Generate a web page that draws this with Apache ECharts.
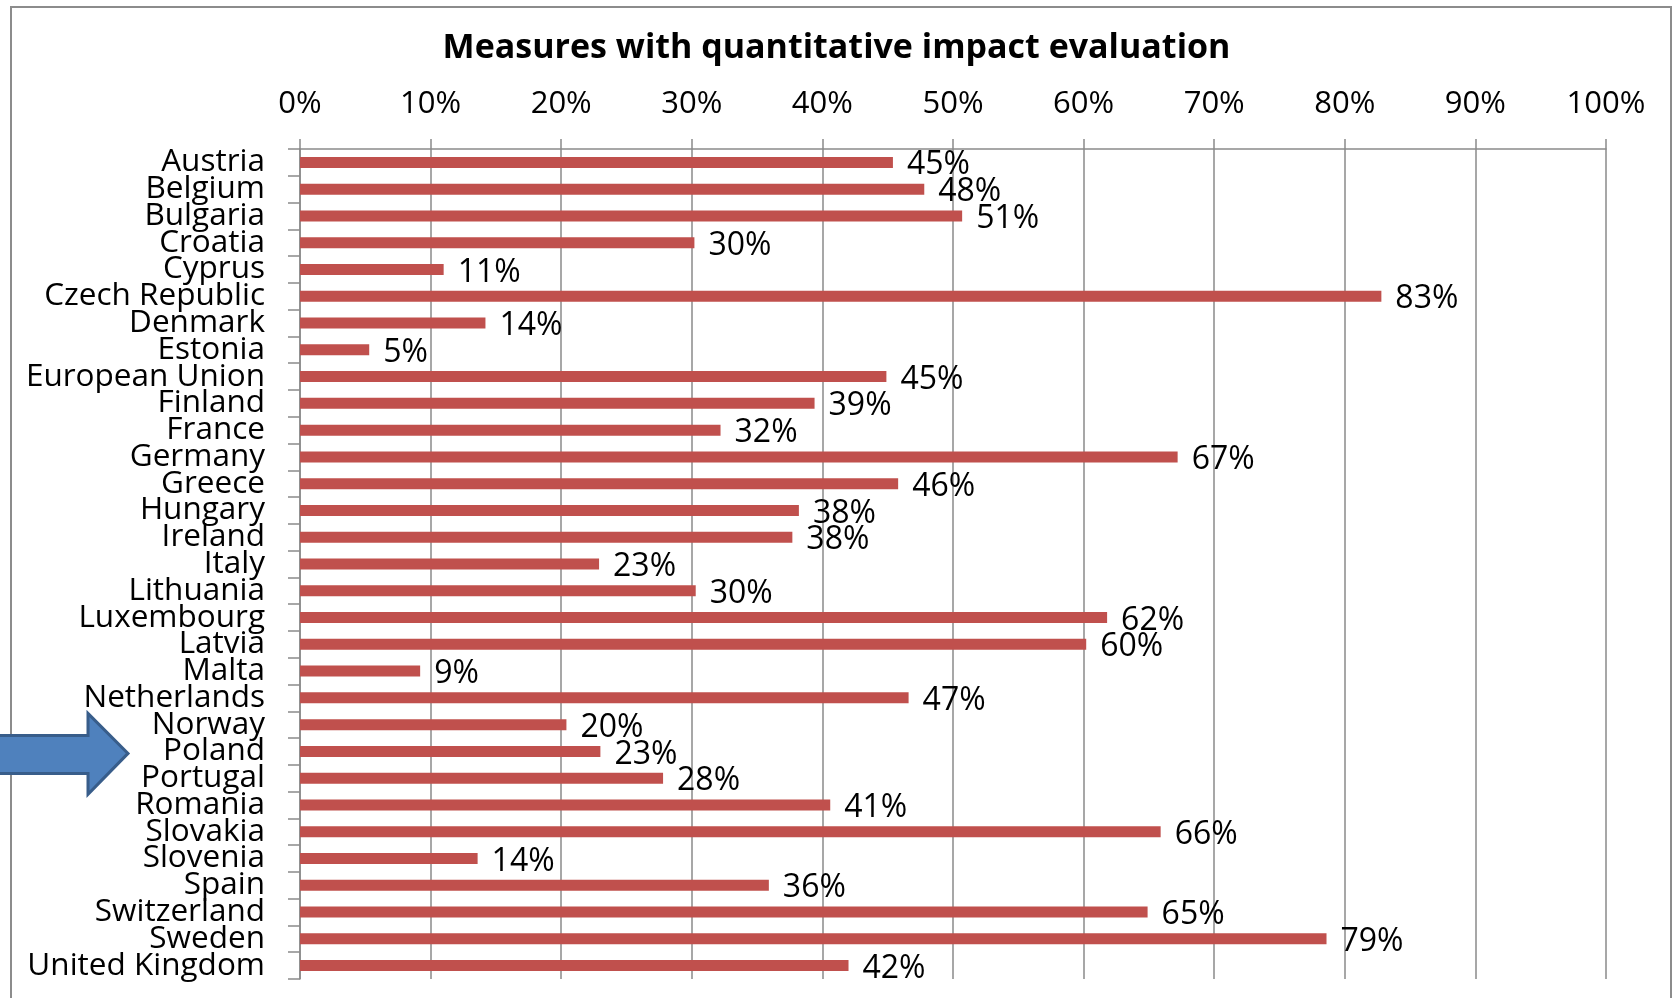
<!DOCTYPE html>
<html>
<head>
<meta charset="utf-8">
<script src="https://cdn.jsdelivr.net/npm/echarts@6/dist/echarts.min.js"></script>
<style>
html,body{margin:0;padding:0;background:#fff;}
#chart{width:1673px;height:998px;}
</style>
</head>
<body>
<div id="chart"></div>
<script>
const titleText = 'Measures with quantitative impact evaluation';
const countries = ['Austria','Belgium','Bulgaria','Croatia','Cyprus','Czech Republic','Denmark','Estonia','European Union','Finland','France','Germany','Greece','Hungary','Ireland','Italy','Lithuania','Luxembourg','Latvia','Malta','Netherlands','Norway','Poland','Portugal','Romania','Slovakia','Slovenia','Spain','Switzerland','Sweden','United Kingdom'];
const shares = [45.4,47.8,50.7,30.2,11.0,82.8,14.2,5.3,44.9,39.4,32.2,67.2,45.8,38.2,37.7,22.9,30.3,61.8,60.2,9.2,46.6,20.4,23.0,27.8,40.6,65.9,13.6,35.9,64.9,78.6,42.0];
const xTicks = {min:0, max:100, interval:10};
const highlighted = 'Poland';

const FONT = '"Open Sans", sans-serif';
const GRAY = '#8a8a8a';
const chart = echarts.init(document.getElementById('chart'), null, {renderer:'canvas'});
const option = {
  backgroundColor:'#fff',
  animation:false,
  title:{
    text:titleText, left:'center', top:26,
    textStyle:{fontFamily:FONT, fontWeight:'bold', fontSize:34, color:'#000'}
  },
  grid:{left:300, right:67, top:149, bottom:19, containLabel:false},
  xAxis:{
    type:'value', position:'top', min:xTicks.min, max:xTicks.max, interval:xTicks.interval,
    axisLine:{show:true, lineStyle:{color:GRAY, width:1.5}},
    axisTick:{show:true, length:10, lineStyle:{color:GRAY, width:1.5}},
    splitLine:{show:true, lineStyle:{color:GRAY, width:1.5}},
    axisLabel:{formatter:'{value}%', fontFamily:FONT, fontSize:31, color:'#000', margin:29}
  },
  yAxis:{
    type:'category', inverse:true, data:countries,
    axisLine:{show:true, lineStyle:{color:GRAY, width:1.5}},
    axisTick:{show:true, length:12, lineStyle:{color:GRAY, width:1.5}},
    axisLabel:{fontFamily:FONT, fontSize:31.5, color:'#000', margin:35, interval:0}
  },
  series:[{
    type:'bar', data:shares, barWidth:11,
    itemStyle:{color:'#c0504d'},
    label:{show:true, position:'right', distance:14, fontFamily:FONT, fontSize:32, color:'#000',
      offset:[0,3],
      formatter:p=>Math.round(p.value)+'%'}
  }]
};
chart.setOption(option);

function drawDecor(){
  const py = chart.convertToPixel({yAxisIndex:0}, highlighted);
  chart.setOption({graphic:[
    {type:'rect', id:'border', shape:{x:11, y:7, width:1660, height:1000},
     style:{fill:'none', stroke:'#8c8c8c', lineWidth:2}, silent:true},
    {type:'polygon', id:'arrow', shape:{points:[
      [-10,py-16],[88,py-16],[88,py-38],[128,py+2],[88,py+43],[88,py+22],[-10,py+22]]},
     style:{fill:'#4f81bd', stroke:'#385d8a', lineWidth:3, lineJoin:'miter'}, z:10}
  ]});
}
drawDecor();
</script>
</body>
</html>
